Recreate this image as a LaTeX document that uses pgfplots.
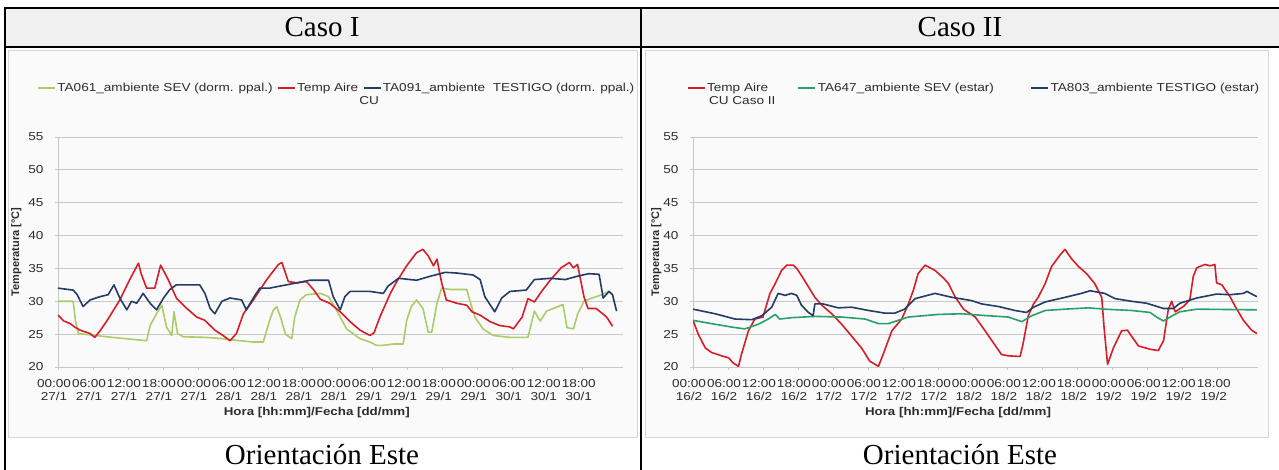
\documentclass[border=0pt]{standalone}
\usepackage{pgfplots}
\pgfplotsset{compat=1.18}
\usepackage{fontspec}
\setmainfont{Liberation Serif}
\newfontfamily\arial{Liberation Sans}
\newfontfamily\arialw{Liberation Sans}[FakeStretch=1.18]
\definecolor{cred}{RGB}{215,30,40}
\definecolor{cnavy}{RGB}{35,60,100}
\definecolor{cgreenA}{RGB}{172,203,105}
\definecolor{cgreenB}{RGB}{40,160,110}
\definecolor{cgrid}{RGB}{200,200,200}
\definecolor{chead}{RGB}{240,240,240}
\definecolor{cframe}{RGB}{215,215,215}
\definecolor{ctext}{RGB}{45,45,45}

\pgfplotsset{
  tempaxis/.style={
    scale only axis, width=565pt, height=230pt,
    anchor=south west,
    xmin=0, xmax=96.9, ymin=20, ymax=55,
    ytick={20,25,...,55},
    xtick={0,6,...,90},
    axis x line*=bottom, axis y line*=left,
    axis line style={cgrid, line width=0.8pt},
    ymajorgrids, major grid style={cgrid, line width=0.8pt},
    tick style={cgrid, line width=0.8pt},
    major tick length=3pt,
    tick align=outside,
    /pgf/number format/assume math mode=true,
    tick label style={font=\arialw\fontsize{11.5}{13}\selectfont, text=ctext},
    xticklabel style={align=center, inner sep=1pt, xshift=-4pt, yshift=-8pt},
    yticklabel style={xshift=-8pt},
    xlabel={Hora [hh:mm]/Fecha [dd/mm]},
    ylabel={Temperatura [°C]},
    xlabel style={font=\arialw\bfseries\fontsize{11.3}{12}\selectfont, text=ctext},
    ylabel style={font=\arial\bfseries\fontsize{11}{12}\selectfont, text=ctext},
    legend columns=3,
    legend image code/.code={\draw[#1, line width=1.6pt] (0pt,0pt) -- (17pt,0pt);},
    legend style={draw=none, fill=none, inner sep=0pt, anchor=west,
      font=\arialw\fontsize{11.5}{13}\selectfont, text=ctext,
      nodes={inner sep=1.5pt}},
    no markers, every axis plot/.append style={line width=1.6pt, line join=round},
  }
}

\begin{document}
\begin{tikzpicture}[x=1pt,y=1pt]
\useasboundingbox (0,0) rectangle (1279,470);
% table
\fill[chead] (5,423) rectangle (1279,462);
\fill[white] (5,0) rectangle (1279,423);
\draw[cframe, fill=white!98!black, line width=0.8pt] (8,33) rectangle (637,420);
\draw[cframe, fill=white!98!black, line width=0.8pt] (645,33) rectangle (1268,420);
\draw[line width=2pt] (4,462) -- (1279,462);
\draw[line width=2pt] (4,423) -- (1279,423);
\draw[line width=2pt] (5,463) -- (5,0);
\draw[line width=2pt] (641,463) -- (641,0);
\node[font=\fontsize{29}{30}\selectfont] at (322,442.5) {Caso I};
\node[font=\fontsize{29}{30}\selectfont] at (960,442.5) {Caso II};
\node[font=\fontsize{29}{30}\selectfont] at (322,15) {Orientación Este};
\node[font=\fontsize{29}{30}\selectfont] at (960,15) {Orientación Este};

% ---------------- Caso I
\begin{axis}[tempaxis, at={(58pt,103pt)},
  xticklabels={{00:00\\27/1},{06:00\\27/1},{12:00\\27/1},{18:00\\27/1},
               {00:00\\27/1},{06:00\\28/1},{12:00\\28/1},{18:00\\28/1},
               {00:00\\28/1},{06:00\\29/1},{12:00\\29/1},{18:00\\29/1},
               {00:00\\29/1},{06:00\\30/1},{12:00\\30/1},{18:00\\30/1}},
  ylabel style={at={(axis description cs:-0.074,0.5)}, anchor=center},
  xlabel style={at={(axis description cs:0.458,-0.2)}, anchor=center},
  legend style={at={(axis description cs:-0.037,1.213)}},
]
\addplot[cgreenA] coordinates {
(0,30.0)(2.6,30.0)(3.0,27.0)(3.5,25.1)(8.3,24.6)(11.8,24.3)(15.2,24.0)(15.8,26.3)
(16.9,28.1)(17.8,29.4)(18.6,26.1)(19.5,24.8)(19.9,28.4)(20.5,25.1)(21.5,24.6)(25.5,24.5)
(28.3,24.3)(31.2,24.0)(33.5,23.8)(35.2,23.8)(36.3,27.1)(36.9,28.6)(37.5,29.2)(38.2,27.5)
(39.0,25.0)(40.1,24.3)(40.6,27.6)(41.5,30.2)(42.6,31.0)(45.0,31.2)(46.4,30.7)(47.8,28.6)
(49.5,25.8)(51.8,24.3)(53.5,23.8)(54.6,23.3)(55.8,23.3)(57.5,23.5)(59.2,23.5)(59.8,27.1)
(60.6,29.2)(61.5,30.2)(62.6,28.9)(63.5,25.3)(64.1,25.3)(65.0,29.7)(65.8,32.0)(67.2,31.8)
(70.1,31.8)(70.6,30.2)(71.5,27.6)(72.9,25.8)(74.6,24.8)(77.5,24.5)(80.6,24.5)(81.7,28.5)
(82.7,27.0)(83.8,28.5)(85.2,29.0)(86.6,29.5)(87.3,26.0)(88.4,25.8)(89.1,28.0)(90.2,30.0)
(91.6,30.5)(93.3,31.0)(94.4,31.5)(95.1,31.0)};
\addlegendentry{TA061\_ambiente SEV (dorm. ppal.)\rule{3pt}{0pt}}
\addplot[cred] coordinates {
(0,27.9)(1,27.0)(2.1,26.6)(3,26.0)(3.8,25.6)(5.5,25.1)(6.3,24.5)(7.2,25.5)(8.3,26.9)
(10.6,30.2)(12.3,33.3)(13.8,35.8)(14.3,34.1)(15.2,32.0)(16.6,32.0)(17.6,35.5)(18.9,33.3)
(20.3,30.5)(22.1,28.9)(23.8,27.6)(25.2,27.1)(26.9,25.6)(28.3,24.8)(29.5,24.0)(30.6,25.1)
(31.8,28.1)(33.5,30.2)(35.8,33.3)(37.8,35.6)(38.4,35.9)(39.5,33.0)(41.0,32.8)(42.6,33.0)
(43.8,31.8)(45.0,30.3)(46.6,29.7)(48.4,28.4)(50.1,26.9)(51.8,25.6)(53.5,24.8)(54.2,25.2)
(55.2,27.6)(57.0,31.2)(58.1,33.0)(59.8,35.4)(61.5,37.4)(62.6,37.9)(63.5,36.9)(64.4,35.4)
(65.0,36.4)(65.8,32.8)(66.6,30.2)(68.4,29.7)(70.1,29.4)(71.0,28.4)(72.4,27.9)(74.1,26.9)
(75.8,26.3)(77.5,26.1)(78.1,25.8)(79.6,27.6)(80.6,30.4)(81.7,29.9)(83.1,31.7)(84.5,33.3)
(86.3,35.1)(87.7,35.9)(88.4,35.1)(89.1,35.6)(90.2,30.7)(90.9,28.9)(92.3,28.9)(94.1,27.6)
(95.1,26.2)};
\addlegendentry{Temp Aire\rlap{\raisebox{-13pt}[0pt][0pt]{\rule{1pt}{0pt}CU}}\rule{3pt}{0pt}}
\addplot[cnavy] coordinates {
(0,32.0)(2.6,31.7)(3.3,31.0)(4.3,29.2)(5.5,30.2)(7.2,30.7)(8.6,31.0)(9.6,32.5)(10.6,30.5)
(11.8,28.7)(12.6,30.0)(13.5,29.7)(14.6,31.2)(15.8,29.7)(16.9,28.7)(18.1,30.5)(19.2,31.8)
(20.3,32.5)(24.3,32.5)(25.2,31.2)(26.1,28.9)(26.9,28.1)(28.1,30.0)(29.5,30.5)(31.5,30.2)
(32.3,28.7)(33.5,30.5)(34.6,32.0)(36.3,32.0)(38.0,32.3)(39.2,32.5)(43.2,33.2)(46.4,33.2)
(47.2,30.7)(48.4,28.7)(49.2,30.7)(50.1,31.5)(53.5,31.5)(55.8,31.2)(56.6,32.3)(58.4,33.5)
(61.5,33.2)(63.8,33.8)(66.4,34.4)(68.4,34.3)(71.2,34.0)(72.4,33.3)(73.2,30.7)(74.9,28.4)
(76.1,30.5)(77.5,31.5)(80.3,31.7)(81.7,33.3)(84.5,33.5)(87.0,33.3)(89.0,33.8)(91.0,34.2)
(92.8,34.1)(93.5,30.5)(94.5,31.5)(95.1,31.0)(95.8,28.5)};
\addlegendentry{TA091\_ambiente\ \ TESTIGO (dorm. ppal.)}
\end{axis}

% ---------------- Caso II
\begin{axis}[tempaxis, at={(693pt,103pt)},
  xticklabels={{00:00\\16/2},{06:00\\16/2},{12:00\\16/2},{18:00\\16/2},
               {00:00\\17/2},{06:00\\17/2},{12:00\\17/2},{18:00\\17/2},
               {00:00\\18/2},{06:00\\18/2},{12:00\\18/2},{18:00\\18/2},
               {00:00\\19/2},{06:00\\19/2},{12:00\\19/2},{18:00\\19/2}},
  ylabel style={at={(axis description cs:-0.065,0.5)}, anchor=center},
  xlabel style={at={(axis description cs:0.469,-0.2)}, anchor=center},
  legend style={at={(axis description cs:-0.011,1.213)}},
]
\addplot[cred] coordinates {
(0,27.1)(0.9,25.0)(2.1,22.9)(3.2,22.2)(4.9,21.7)(6.1,21.4)(6.9,20.6)(7.8,20.1)(8.3,21.9)
(9.5,25.5)(10.6,27.3)(12.0,27.6)(13.2,31.2)(14.1,32.7)(15.2,34.7)(16.1,35.5)(17.2,35.5)
(17.8,35.0)(18.9,33.5)(19.8,32.2)(20.9,30.6)(22.1,29.4)(23.8,28.1)(25.5,26.5)(27.2,24.7)
(28.9,22.9)(30.3,20.9)(31.8,20.1)(32.6,21.9)(34.1,25.5)(35.8,27.3)(36.9,29.5)(37.8,31.7)
(38.6,34.2)(39.8,35.5)(41.5,34.7)(43.0,33.5)(43.8,32.7)(45.0,30.6)(46.4,28.8)(48.4,27.6)
(50.1,25.5)(51.5,23.7)(52.9,21.9)(54.1,21.7)(56.1,21.6)(56.6,23.5)(57.5,27.8)(58.4,29.6)
(59.2,30.6)(60.4,32.7)(61.5,35.3)(63.0,37.1)(63.8,37.9)(64.9,36.5)(66.1,35.3)(67.5,34.2)
(68.9,32.7)(70.1,30.6)(70.5,26.0)(71.1,20.4)(72.1,22.9)(73.5,25.5)(74.5,25.6)(75.2,24.7)
(76.4,23.2)(78.4,22.7)(79.8,22.5)(80.7,24.0)(81.5,28.7)(82.1,30.0)(82.7,28.4)(84.1,29.2)
(85.2,30.2)(85.8,33.8)(86.4,35.1)(87.8,35.6)(88.7,35.4)(89.5,35.6)(89.8,32.8)(90.7,32.5)
(92.1,30.7)(93.0,29.2)(94.4,27.1)(95.8,25.6)(96.7,25.1)};
\addlegendentry{\rlap{\raisebox{-13pt}[0pt][0pt]{\rule{2pt}{0pt}CU Caso II}}Temp Aire\rule{28pt}{0pt}}
\addplot[cgreenB] coordinates {
(0,27.1)(3.8,26.5)(7.2,26.0)(8.9,25.8)(11.2,26.5)(12.9,27.3)(14.1,28.0)(14.9,27.3)
(16.9,27.5)(20.9,27.7)(25.5,27.6)(29.5,27.3)(31.8,26.6)(33.5,26.6)(35.2,27.1)(36.9,27.6)
(42.1,28.0)(46.1,28.1)(50.6,27.8)(54.1,27.6)(56.4,26.9)(58.1,27.8)(60.4,28.6)(63.8,28.8)
(67.8,29.0)(70.6,28.8)(75.2,28.6)(78.4,28.3)(79.5,27.6)(80.7,27.0)(81.8,27.6)(83.5,28.4)
(86.4,28.8)(96.7,28.7)};
\addlegendentry{TA647\_ambiente SEV (estar)\rule{35pt}{0pt}}
\addplot[cnavy] coordinates {
(0,28.8)(3.8,28.1)(7.2,27.3)(10.1,27.2)(11.8,27.8)(13.5,29.1)(14.6,31.2)(15.8,30.9)
(16.9,31.2)(17.8,30.9)(18.6,29.4)(19.8,28.3)(20.6,27.8)(20.9,29.6)(22.3,29.6)(24.9,29.0)
(27.2,29.1)(30.1,28.6)(32.9,28.2)(34.6,28.2)(36.3,28.8)(38.1,30.4)(41.5,31.2)(44.4,30.6)
(47.8,30.1)(49.5,29.6)(52.4,29.2)(55.2,28.6)(57.2,28.3)(58.4,29.1)(60.4,29.9)(63.8,30.6)
(66.6,31.2)(68.1,31.6)(70.6,31.2)(72.4,30.4)(75.2,30.0)(77.8,29.7)(80.7,28.9)(82.4,28.9)
(83.5,29.7)(86.4,30.5)(89.8,31.1)(92.1,31.0)(94.4,31.2)(95.0,31.5)(96.7,30.7)};
\addlegendentry{TA803\_ambiente TESTIGO (estar)}
\end{axis}
\end{tikzpicture}
\end{document}
